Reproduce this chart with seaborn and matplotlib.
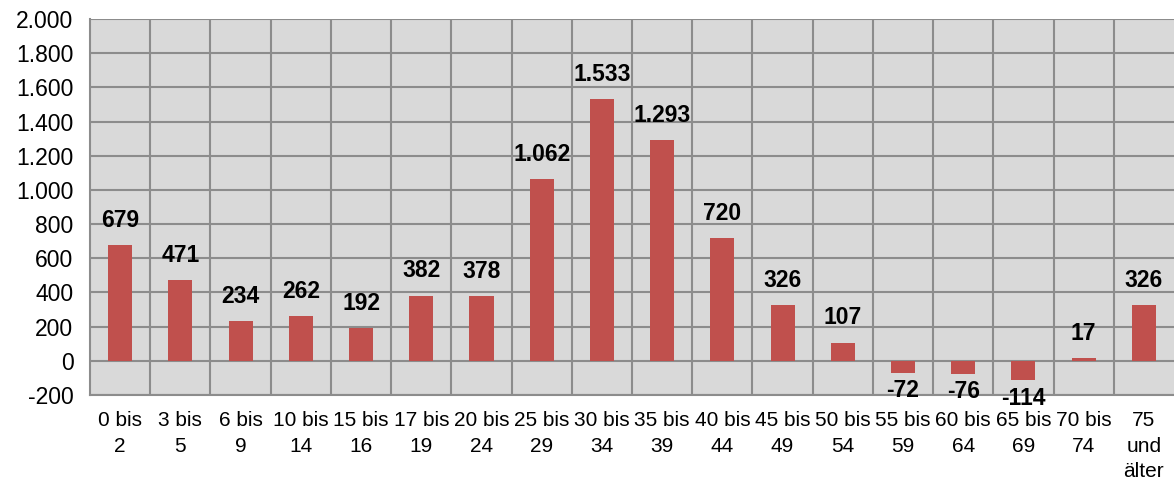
import matplotlib
matplotlib.use("Agg")
import matplotlib.pyplot as plt
import seaborn as sns
import pandas as pd
import numpy as np
from matplotlib.ticker import FixedLocator

categories = ["0 bis\n2", "3 bis\n5", "6 bis\n9", "10 bis\n14", "15 bis\n16", "17 bis\n19",
              "20 bis\n24", "25 bis\n29", "30 bis\n34", "35 bis\n39", "40 bis\n44", "45 bis\n49",
              "50 bis\n54", "55 bis\n59", "60 bis\n64", "65 bis\n69", "70 bis\n74", "75\nund\nälter"]
values = [679, 471, 234, 262, 192, 382, 378, 1062, 1533, 1293, 720, 326, 107, -72, -76, -114, 17, 326]
yticks = list(range(-200, 2001, 200))

def de_fmt(v):
    s = f"{abs(v):,}".replace(",", ".")
    return ("-" if v < 0 else "") + s

sns.set_style("white")
plt.rcParams['font.family'] = ['Liberation Sans', 'DejaVu Sans']
plt.rcParams['text.color'] = 'black'
plt.rcParams['xtick.color'] = 'black'
plt.rcParams['ytick.color'] = 'black'

df = pd.DataFrame({"cat": categories, "val": values})

fig = plt.figure(figsize=(11.74, 4.8), dpi=100)
ax = fig.add_axes([0.0767, 0.1771, 0.9233, 0.7833])
ax.set_facecolor("#d9d9d9")
sns.barplot(data=df, x="cat", y="val", color="#c0504d", width=0.4, ax=ax,
            saturation=1, edgecolor="none", linewidth=0)

grid_c = "#8c8c8c"
ax.set_ylim(-200, 2000)
ax.set_xlim(-0.5, len(categories) - 0.5)
ax.set_yticks(yticks)
ax.set_yticklabels([de_fmt(v) for v in yticks], fontsize=16.5, color="black")
ax.xaxis.set_minor_locator(FixedLocator(np.arange(0.5, len(categories) - 0.5, 1)))
ax.grid(axis="y", which="major", color=grid_c, linewidth=1.5)
ax.grid(axis="x", which="minor", color=grid_c, linewidth=1.5)
ax.grid(axis="x", which="major", visible=False)
ax.set_axisbelow(True)
ax.tick_params(axis="y", which="major", length=6, width=1.5, color=grid_c, direction="out", pad=6)
ax.tick_params(axis="x", which="both", length=0, labelsize=15, pad=11.5)
for lbl in ax.get_xticklabels():
    lbl.set_linespacing(1.45)
    lbl.set_color("black")
ax.set_xlabel("")
ax.set_ylabel("")
for s in ["top", "right"]:
    ax.spines[s].set_visible(False)
for s in ["left", "bottom"]:
    ax.spines[s].set_color(grid_c)
    ax.spines[s].set_linewidth(1.5)

for i, v in enumerate(values):
    if v >= 0:
        ax.annotate(de_fmt(v), (i, v), xytext=(0, 13), textcoords="offset points",
                    ha="center", va="baseline", fontsize=16.5, fontweight="bold", color="black")
    else:
        ax.annotate(de_fmt(v), (i, v), xytext=(0, -4.5), textcoords="offset points",
                    ha="center", va="top", fontsize=16.5, fontweight="bold", color="black")

fig.savefig("out.png", dpi=100)
